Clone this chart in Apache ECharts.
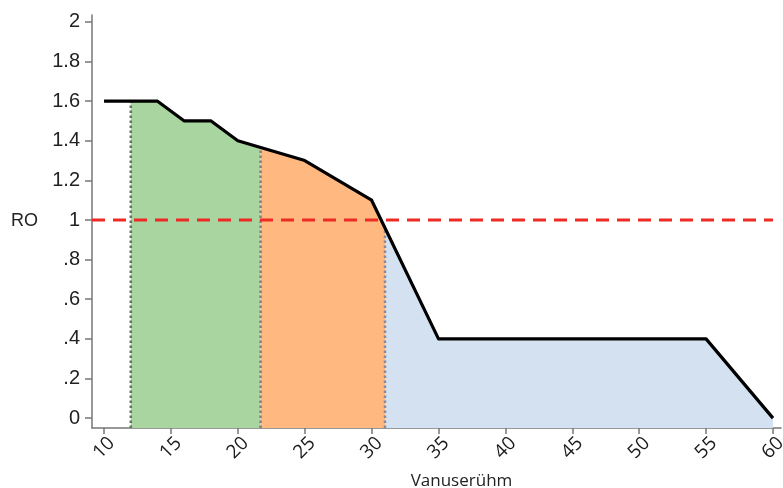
<!DOCTYPE html>
<html>
<head>
<meta charset="utf-8">
<script src="https://cdn.jsdelivr.net/npm/echarts@6/dist/echarts.min.js"></script>
<style>
html,body{margin:0;padding:0;background:#fff;}
#chart{width:783px;height:488px;}
</style>
</head>
<body>
<div id="chart"></div>
<script>
// ---- data ----
const ageVals = [10, 14, 16, 18, 20, 25, 30, 35, 55, 60];
const roVals  = [1.6, 1.6, 1.5, 1.5, 1.4, 1.3, 1.1, 0.4, 0.4, 0];
const bandEdges  = [12, 21.7, 31, 60];
const bandColors = ['#a8d5a0', '#ffb880', '#d4e1f1'];
const refValue = 1;
const xTicks = [10, 15, 20, 25, 30, 35, 40, 45, 50, 55, 60];
const yTicks = [0, 0.2, 0.4, 0.6, 0.8, 1, 1.2, 1.4, 1.6, 1.8, 2];
const yTickLabels = ['0', '.2', '.4', '.6', '.8', '1', '1.2', '1.4', '1.6', '1.8', '2'];
const yName = 'RO';
const xName = 'Vanuserühm';

const xMin = 9.1, xMax = 60.6, yMin = -0.05, yMax = 2.035;

function interp(x) {
  for (let i = 0; i < ageVals.length - 1; i++) {
    const a = ageVals[i], b = ageVals[i + 1];
    if (x >= a && x <= b) {
      return roVals[i] + (roVals[i + 1] - roVals[i]) * (x - a) / (b - a);
    }
  }
  return null;
}

const curve = ageVals.map((x, i) => [x, roVals[i]]);
const series = [];

for (let i = 0; i < bandColors.length; i++) {
  const a = bandEdges[i], b = bandEdges[i + 1];
  const pts = [[a, interp(a)]];
  ageVals.forEach((x, k) => { if (x > a && x < b) pts.push([x, roVals[k]]); });
  pts.push([b, interp(b)]);
  series.push({
    type: 'line', data: pts, showSymbol: false, silent: true, z: 1,
    lineStyle: { width: 0 },
    areaStyle: { color: bandColors[i], opacity: 1, origin: 'start' }
  });
}
const dotColors = ['#5f755f', '#808080', '#8a8a99'];
for (let i = 0; i < 3; i++) {
  const e = bandEdges[i];
  series.push({
    type: 'line', data: [[e, yMin], [e, interp(e)]], showSymbol: false, silent: true, z: 2,
    lineStyle: { color: dotColors[i], width: 2.5, type: [2.5, 2.5] }
  });
}
series.push({
  type: 'line', data: [[xMin, refValue], [60, refValue]], showSymbol: false, silent: true, z: 3,
  lineStyle: { color: '#ee2a24', width: 3, type: [13, 8] }
});
series.push({
  type: 'line', data: curve, showSymbol: false, silent: true, z: 4,
  lineStyle: { color: '#000', width: 3.2, join: 'round' }
});

const chart = echarts.init(document.getElementById('chart'), null, { renderer: 'canvas' });
chart.setOption({
  animation: false,
  backgroundColor: '#fff',
  grid: { left: 92, right: 2, top: 15, bottom: 60, containLabel: false, outerBoundsMode: 'none' },
  xAxis: {
    type: 'value', min: xMin, max: xMax,
    name: xName, nameLocation: 'middle', nameGap: 45,
    nameTextStyle: { fontFamily: 'Open Sans', fontSize: 17, color: '#222', padding: [0, 0, 0, 50] },
    axisLine: { show: true, onZero: false, lineStyle: { color: '#777', width: 1.5 } },
    axisTick: { show: true, customValues: xTicks, length: 6, lineStyle: { color: '#777', width: 1.5 } },
    axisLabel: {
      customValues: xTicks, rotate: 45, margin: 20, align: 'center', verticalAlign: 'middle',
      fontFamily: 'Open Sans', fontSize: 19, color: '#1a1a1a'
    },
    splitLine: { show: false }
  },
  yAxis: {
    type: 'value', min: yMin, max: yMax,
    name: yName, nameLocation: 'middle', nameRotate: 0, nameGap: 54,
    nameTextStyle: { fontFamily: 'Liberation Sans', fontSize: 18, color: '#222' },
    axisLine: { show: true, onZero: false, lineStyle: { color: '#777', width: 1.5 } },
    axisTick: { show: true, customValues: yTicks, length: 7, lineStyle: { color: '#777', width: 1.5 } },
    axisLabel: {
      customValues: yTicks, margin: 12,
      fontFamily: 'Liberation Sans', fontSize: 20, color: '#222',
      formatter: v => {
        const idx = yTicks.findIndex(t => Math.abs(t - v) < 1e-6);
        return idx >= 0 ? yTickLabels[idx] : '';
      }
    },
    splitLine: { show: false }
  },
  series: series
});
</script>
</body>
</html>
